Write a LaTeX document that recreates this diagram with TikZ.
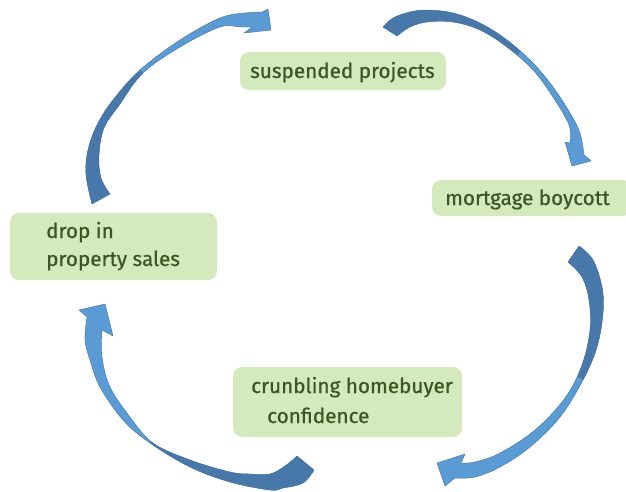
\documentclass[tikz,border=0pt]{standalone}
\usepackage{fontspec}
\setmainfont{Fira Sans}
\newfontfamily\boxfont{Fira Sans}[FakeBold=0.7]
\definecolor{boxgreen}{HTML}{D4EABD}
\definecolor{txtgreen}{HTML}{385723}
\definecolor{arrowlight}{HTML}{5B9BD5}
\definecolor{arrowdark}{HTML}{4878AA}
\definecolor{arrowedge}{HTML}{41719C}
\begin{document}
\begin{tikzpicture}[x=1pt,y=-1pt,
  box/.style={fill=boxgreen, rounded corners=9pt, inner sep=0pt, draw=none},
  lbl/.style={anchor=base west, inner sep=0pt, text=txtgreen, font=\boxfont\fontsize{20.7}{25}\selectfont},
  rim/.style={draw=arrowedge, line width=0.4pt, line join=round}]
\useasboundingbox (0,0) rectangle (626,491);

% ---- boxes ----
\node[box, minimum width=206pt, minimum height=38pt] (sp) at (343,71) {};
\node[box, minimum width=200pt, minimum height=36pt] (mb) at (532,198) {};
\node[box, minimum width=207pt, minimum height=67pt] (dp) at (113.5,246.5) {};
\node[box, minimum width=229pt, minimum height=70pt] (cc) at (347.5,402) {};

% ---- labels ----
\node[lbl] (spA) at (250,78) {suspended projects};
\node[lbl] (mbA) at (445,205) {mortgage boycott};
\node[lbl] (dpA) at (46,238) {drop in};
\node[lbl] (dpB) at (46,266) {property sales};
\node[lbl] (ccA) at (251,393) {crunbling homebuyer};
\node[lbl] (ccB) at (267,423) {confidence};

% ---- curved arrow: drop in -> suspended projects ----
\path[save path=\arrA]
  plot[smooth, tension=0.6] coordinates {(92,204) (86,175) (88,150) (97,125) (113,100) (140,70) (180,40) (220,18) (245,13) (262,12)}
  -- (268,9) -- (271,30) -- (244,33) -- (252,27)
  -- plot[smooth, tension=0.6] coordinates {(252,27) (240,27) (220,27) (180,47) (143,73) (120,104) (104,128) (99,155) (101,178) (110,194)}
  -- cycle;
\fill[arrowlight, use path=\arrA];
\begin{scope}
  \clip[use path=\arrA];
  \fill[arrowdark] (111,36) -- (171,106) -- (171,250) -- (0,250) -- (0,36) -- cycle;
\end{scope}
\draw[rim, use path=\arrA];

% ---- curved arrow: suspended projects -> mortgage boycott ----
\path[save path=\arrB]
  plot[smooth, tension=0.6] coordinates {(383,27) (393,18) (410,12) (427,10) (453,13) (480,23) (507,40) (533,63) (553,87) (570,113) (580,133) (584,155)}
  -- (591,161) -- (572,166) -- (565,142) -- (570,143)
  -- plot[smooth, tension=0.6] coordinates {(570,143) (569,125) (553,97) (533,70) (507,47) (480,30) (453,22) (427,22) (410,27) (397,36)}
  -- cycle;
\fill[arrowlight, use path=\arrB];
\begin{scope}
  \clip[use path=\arrB];
  \fill[arrowdark] (567,-5) -- (455,131) -- (350,131) -- (350,-5) -- cycle;
\end{scope}
\draw[rim, use path=\arrB];

% ---- curved arrow: mortgage boycott -> crunbling homebuyer confidence ----
\path[save path=\arrC]
  plot[smooth, tension=0.6] coordinates {(579,246) (593,260) (602,287) (603,313) (597,347) (583,380) (560,417) (530,447) (500,467) (475,477) (455,478)}
  -- (445,486) -- (437,463) -- (465,454) -- (461,463)
  -- plot[smooth, tension=0.6] coordinates {(461,463) (475,462) (500,453) (535,430) (565,398) (582,365) (590,330) (589,300) (582,277) (568,262)}
  -- cycle;
\fill[arrowlight, use path=\arrC];
\begin{scope}
  \clip[use path=\arrC];
  \fill[arrowdark] (626,399) -- (520,351) -- (520,200) -- (626,200) -- cycle;
\end{scope}
\draw[rim, use path=\arrC];

% ---- curved arrow: crunbling homebuyer confidence -> drop in ----
\path[save path=\arrD]
  plot[smooth, tension=0.6] coordinates {(314,470) (303,483) (283,488) (270,490) (230,482) (190,467) (150,443) (123,420) (100,387) (90,360) (85,340) (87,317)}
  -- (79,310) -- (105,304) -- (113,336) -- (102,330)
  -- plot[smooth, tension=0.6] coordinates {(102,330) (102,357) (110,387) (130,417) (153,443) (190,460) (230,472) (250,474) (270,474) (285,466) (297,456)}
  -- cycle;
\fill[arrowlight, use path=\arrD];
\begin{scope}
  \clip[use path=\arrD];
  \fill[arrowdark] (200,372) -- (110,501) -- (330,501) -- (330,372) -- cycle;
\end{scope}
\draw[rim, use path=\arrD];
\end{tikzpicture}
\end{document}
